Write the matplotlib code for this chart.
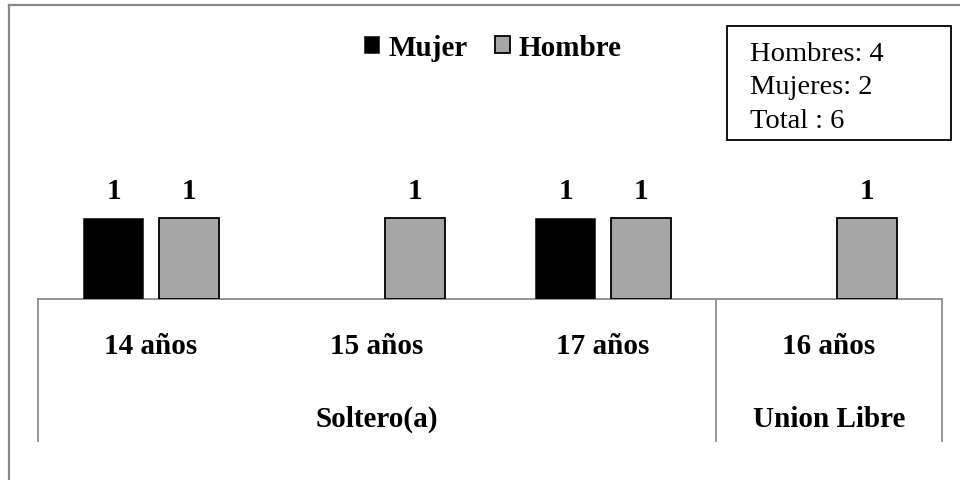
import numpy as np
import matplotlib
matplotlib.use("Agg")
import matplotlib.pyplot as plt
from matplotlib.patches import Rectangle
from matplotlib.lines import Line2D

# ---- data ----
categories = ["14 años", "15 años", "17 años", "16 años"]
group_names = ["Soltero(a)", "Union Libre"]
group_sizes = [3, 1]
mujer = [1, np.nan, 1, np.nan]
hombre = [1, 1, 1, 1]
series_names = ["Mujer", "Hombre"]

plt.rcParams["font.family"] = ["Liberation Serif", "DejaVu Serif"]

W, H = 960, 481
fig = plt.figure(figsize=(W / 100, H / 100), dpi=100)
fig.patch.set_facecolor("white")

FS = 21

# axes geometry in pixels
ax_left, ax_right, ax_bottom, ax_top = 38, 942, 300, 6
ax = fig.add_axes([ax_left / W, (H - ax_bottom) / H,
                   (ax_right - ax_left) / W, (ax_bottom - ax_top) / H])
ax_h = ax_bottom - ax_top
px_per_unit = 80.7
ax.set_ylim(0, ax_h / px_per_unit)
ax.set_xlim(-0.5, len(categories) - 0.5)

x = np.arange(len(categories))
bw = 0.2655
off = 0.166
b1 = ax.bar(x - off, mujer, bw, color="black", edgecolor="#333333", linewidth=0.6,
            label=series_names[0], zorder=3)
b2 = ax.bar(x + off, hombre, bw, color="#A6A6A6", edgecolor="black", linewidth=1.3,
            label=series_names[1], zorder=3)

for xs, vals in ((x - off, mujer), (x + off, hombre)):
    for xi, v in zip(xs, vals):
        if v is None or (isinstance(v, float) and np.isnan(v)):
            continue
        ax.annotate(f"{int(v)}", (xi, v), xytext=(0, 14.5), textcoords="offset points",
                    ha="center", va="baseline", fontsize=FS, fontweight="bold")

for s in ["top", "right", "left"]:
    ax.spines[s].set_visible(False)
ax.spines["bottom"].set_color("#8c8c8c")
ax.spines["bottom"].set_linewidth(1.3)
ax.set_xticks([])
ax.set_yticks([])
ax.patch.set_alpha(0)

tr = ax.get_xaxis_transform()
cat_base = -(354 - ax_bottom) / ax_h
grp_base = -(427 - ax_bottom) / ax_h
line_bot = -(441.7 - ax_bottom) / ax_h
for xi, c in zip(x, categories):
    ax.text(xi, cat_base, c, transform=tr, ha="center", va="baseline",
            fontsize=FS, fontweight="bold")

start = 0
bounds = [-0.5]
for g, n in zip(group_names, group_sizes):
    center = start + (n - 1) / 2
    ax.text(center, grp_base, g, transform=tr, ha="center", va="baseline",
            fontsize=FS, fontweight="bold")
    start += n
    bounds.append(start - 0.5)
for b in bounds:
    ax.add_line(Line2D([b, b], [0, line_bot], transform=tr, color="#8c8c8c",
                       lw=1.3, clip_on=False))

# legend
fig.legend(handles=[b1, b2], labels=series_names, loc="center",
           bbox_to_anchor=(493 / W, 1 - 48 / H), ncol=2, frameon=False,
           prop={"size": FS, "weight": "bold"}, handlelength=0.52,
           handleheight=0.52, handletextpad=0.3, columnspacing=0.95,
           borderpad=0, borderaxespad=0)

# info box
bx0, bx1, by0, by1 = 727.3, 950.7, 26.7, 141
fig.add_artist(Rectangle((bx0 / W, 1 - by1 / H), (bx1 - bx0) / W, (by1 - by0) / H,
                         transform=fig.transFigure, fill=False, ec="black", lw=1.3))
tot_h = int(np.nansum(hombre))
tot_m = int(np.nansum(mujer))
lines = [f"Hombres: {tot_h}", f"Mujeres: {tot_m}", f"Total : {tot_h + tot_m}"]
for i, t in enumerate(lines):
    fig.text(750 / W, 1 - (61 + 33.5 * i) / H, t, ha="left", va="baseline", fontsize=20.5)

# outer chart border (left & top visible)
fig.add_artist(Line2D([9 / W, 9 / W], [0, 1 - 6 / H], transform=fig.transFigure,
                      color="#888888", lw=1.6))
fig.add_artist(Line2D([9 / W, 1], [1 - 6 / H, 1 - 6 / H], transform=fig.transFigure,
                      color="#888888", lw=1.6))

fig.savefig("out.png", dpi=100, facecolor="white")
